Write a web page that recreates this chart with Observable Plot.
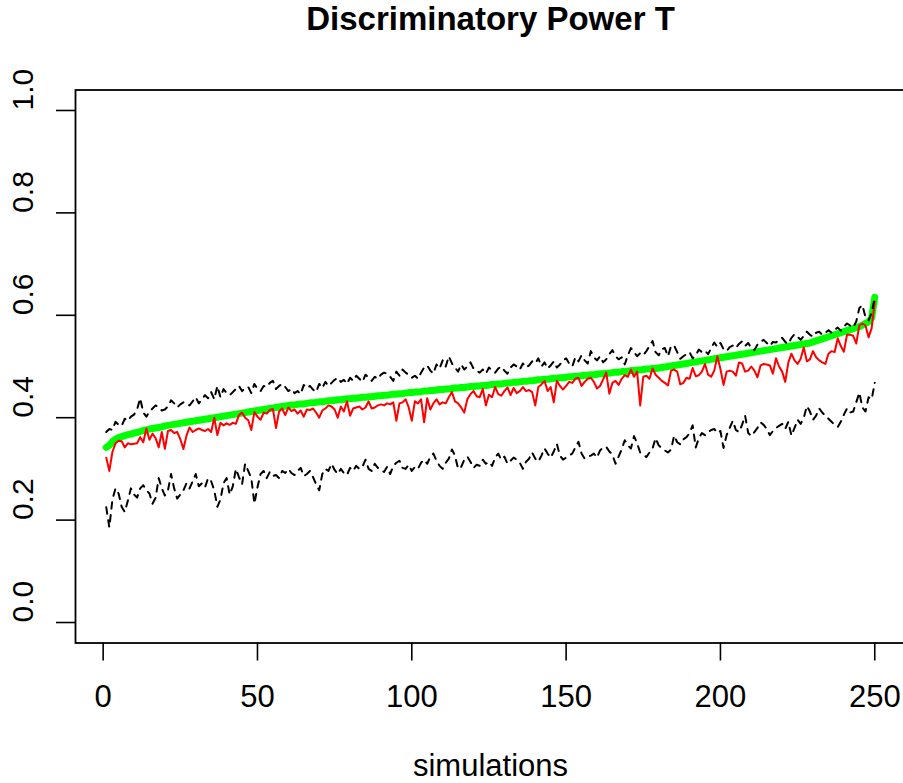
<!DOCTYPE html>
<html>
<head>
<meta charset="utf-8">
<script src="https://cdn.jsdelivr.net/npm/d3@7"></script>
<script src="https://cdn.jsdelivr.net/npm/@observablehq/plot@0.6"></script>
<style>
  html, body { margin: 0; padding: 0; background: white; overflow: hidden; }
  #chart svg { display: block; }
</style>
</head>
<body>
<div id="chart"></div>
<script>
const titleText = "Discriminatory Power T";
const xLabel = "simulations";
const xTicks = [0, 50, 100, 150, 200, 250];
const yTicks = [0.0, 0.2, 0.4, 0.6, 0.8, 1.0];
const sims = d3.range(1, 251);

const green = [
.342,.346,.353,.358,.361,.363,.365,.367,.368,.370,
.371,.373,.375,.376,.378,.379,.380,.381,.382,.384,
.385,.386,.387,.388,.389,.390,.391,.392,.393,.394,
.395,.396,.397,.398,.399,.400,.401,.402,.403,.404,
.405,.406,.407,.408,.409,.410,.411,.412,.413,.414,
.415,.416,.417,.418,.419,.420,.421,.422,.423,.424,
.425,.425,.426,.427,.427,.428,.429,.429,.430,.431,
.431,.432,.433,.433,.434,.435,.435,.436,.437,.437,
.438,.438,.439,.440,.440,.441,.441,.442,.443,.443,
.444,.444,.445,.446,.446,.447,.447,.448,.449,.449,
.450,.450,.451,.452,.452,.453,.453,.454,.455,.455,
.456,.456,.457,.458,.458,.459,.459,.460,.461,.461,
.462,.462,.463,.463,.464,.465,.465,.466,.466,.467,
.468,.468,.469,.469,.470,.471,.471,.472,.472,.473,
.474,.474,.475,.475,.476,.477,.477,.478,.478,.479,
.480,.480,.481,.481,.482,.483,.483,.484,.484,.485,
.486,.486,.487,.487,.488,.489,.489,.490,.490,.491,
.492,.492,.493,.493,.494,.495,.495,.496,.496,.497,
.498,.499,.500,.501,.502,.503,.504,.505,.506,.507,
.508,.509,.510,.511,.512,.513,.514,.515,.516,.517,
.518,.519,.520,.521,.522,.523,.524,.525,.526,.527,
.528,.529,.530,.531,.532,.533,.534,.535,.536,.537,
.538,.539,.540,.541,.542,.543,.544,.545,.546,.548,
.550,.552,.554,.556,.558,.560,.562,.564,.566,.568,
.570,.572,.574,.576,.578,.581,.584,.587,.595,.635
];

const red = [
.322,.296,.333,.350,.355,.354,.342,.350,.348,.349,
.350,.362,.352,.379,.357,.369,.360,.342,.372,.339,
.374,.376,.370,.372,.358,.339,.365,.381,.372,.376,
.379,.376,.374,.378,.372,.400,.366,.390,.385,.389,
.386,.390,.388,.405,.410,.400,.395,.376,.411,.402,
.396,.410,.408,.415,.417,.380,.412,.418,.405,.420,
.413,.416,.408,.414,.402,.416,.415,.418,.410,.400,
.414,.418,.424,.422,.416,.400,.422,.412,.432,.404,
.418,.420,.422,.416,.420,.432,.418,.420,.424,.426,
.424,.428,.426,.430,.394,.428,.430,.436,.420,.394,
.432,.428,.436,.391,.438,.416,.428,.436,.426,.430,
.428,.440,.450,.432,.428,.420,.410,.436,.446,.452,
.442,.440,.456,.424,.445,.440,.460,.446,.443,.452,
.459,.444,.458,.448,.452,.460,.452,.454,.450,.424,
.460,.465,.472,.452,.460,.430,.472,.462,.455,.462,
.470,.468,.476,.478,.462,.470,.476,.478,.470,.457,
.462,.475,.488,.447,.468,.472,.464,.476,.483,.480,
.494,.480,.490,.424,.480,.482,.476,.496,.484,.478,
.472,.468,.463,.492,.494,.490,.465,.468,.478,.476,
.497,.481,.483,.490,.505,.484,.480,.492,.520,.495,
.464,.490,.492,.490,.482,.508,.506,.490,.492,.500,
.492,.479,.502,.505,.504,.502,.486,.516,.500,.490,
.470,.508,.525,.512,.505,.515,.537,.510,.514,.530,
.518,.512,.508,.505,.525,.530,.528,.555,.540,.529,
.562,.562,.560,.545,.580,.584,.580,.557,.575,.627
];

const upper = [
.372,.378,.376,.392,.386,.384,.398,.394,.402,.406,
.416,.438,.410,.402,.412,.418,.424,.420,.414,.416,
.422,.434,.428,.420,.426,.430,.428,.424,.432,.440,
.428,.436,.444,.438,.450,.436,.462,.440,.456,.448,
.444,.450,.456,.462,.452,.458,.460,.448,.466,.456,
.452,.462,.460,.468,.472,.456,.462,.466,.460,.452,
.456,.448,.452,.446,.464,.458,.462,.455,.450,.466,
.458,.470,.462,.468,.474,.478,.470,.474,.466,.478,
.472,.482,.476,.470,.484,.478,.472,.480,.476,.484,
.488,.486,.480,.472,.490,.482,.494,.488,.484,.478,
.482,.476,.488,.498,.502,.492,.486,.504,.496,.512,
.500,.520,.506,.498,.490,.504,.494,.500,.508,.496,
.492,.488,.494,.486,.498,.492,.488,.496,.500,.492,
.486,.498,.504,.500,.494,.506,.498,.502,.510,.506,
.516,.500,.508,.496,.502,.510,.498,.504,.512,.516,
.506,.500,.518,.510,.522,.512,.506,.530,.518,.512,
.520,.508,.514,.524,.532,.520,.514,.518,.504,.522,
.536,.528,.520,.526,.522,.530,.540,.550,.528,.522,
.534,.536,.520,.540,.541,.528,.515,.520,.524,.528,
.516,.522,.533,.528,.531,.524,.536,.547,.538,.546,
.534,.530,.538,.541,.536,.544,.549,.540,.546,.536,
.532,.543,.548,.552,.546,.540,.548,.547,.552,.556,
.548,.544,.556,.563,.558,.552,.560,.568,.562,.558,
.566,.568,.562,.566,.571,.566,.572,.576,.570,.578,
.584,.580,.576,.588,.614,.620,.596,.590,.605,.635
];

const lower = [
.225,.186,.240,.262,.252,.226,.216,.238,.262,.250,
.244,.262,.268,.258,.252,.232,.244,.282,.262,.248,
.258,.290,.262,.242,.250,.258,.272,.262,.276,.290,
.266,.272,.264,.282,.276,.258,.226,.240,.272,.282,
.250,.266,.300,.284,.270,.310,.296,.282,.232,.264,
.290,.296,.282,.294,.286,.288,.282,.296,.292,.300,
.292,.288,.296,.302,.286,.290,.296,.284,.270,.258,
.290,.300,.296,.310,.298,.290,.300,.292,.288,.302,
.296,.306,.300,.304,.318,.300,.296,.310,.302,.298,
.294,.304,.290,.306,.312,.316,.302,.300,.308,.296,
.304,.300,.312,.318,.310,.324,.330,.316,.306,.300,
.312,.320,.338,.326,.300,.304,.318,.324,.314,.302,
.308,.306,.318,.310,.314,.306,.322,.330,.318,.324,
.310,.316,.322,.318,.312,.300,.314,.320,.332,.320,
.314,.326,.340,.330,.322,.334,.349,.326,.318,.322,
.326,.330,.342,.353,.330,.320,.324,.326,.330,.322,
.336,.342,.343,.334,.328,.310,.324,.338,.356,.346,
.340,.364,.350,.332,.328,.323,.332,.340,.360,.346,
.340,.336,.332,.338,.365,.352,.348,.358,.362,.370,
.385,.342,.360,.370,.366,.372,.376,.378,.370,.374,
.341,.366,.380,.394,.376,.372,.386,.404,.370,.364,
.372,.380,.391,.386,.378,.366,.374,.380,.384,.388,
.378,.392,.365,.380,.396,.388,.400,.423,.412,.396,
.404,.418,.410,.404,.398,.392,.386,.382,.392,.406,
.418,.410,.412,.430,.449,.420,.412,.440,.436,.468
];

const toRows = arr => sims.map((s, i) => ({sim: s, value: arr[i]}));

const chart = Plot.plot({
  width: 903,
  height: 783,
  marginLeft: 75,
  marginRight: -2,
  marginTop: 89.5,
  marginBottom: 140.5,
  style: {fontFamily: "'Liberation Sans', Arial, Helvetica, sans-serif", background: "white", color: "black", overflow: "hidden"},
  x: {domain: [-8.96, 259.96]},
  y: {domain: [-0.04, 1.04]},
  marks: [
    Plot.axisX({ticks: xTicks, tickSize: 18, tickPadding: 24, fontSize: 31, label: null, strokeWidth: 1.6}),
    Plot.axisY({ticks: yTicks, tickSize: 19, tickFormat: () => "", label: null, strokeWidth: 1.6}),
    Plot.text(yTicks, {y: d => d, text: d => d.toFixed(1), frameAnchor: "left", rotate: -90, dx: -52, fontSize: 30, fill: "black"}),
    Plot.line(toRows(green), {x: "sim", y: "value", stroke: "#00FF00", strokeWidth: 7, strokeLinecap: "round", strokeLinejoin: "round"}),
    Plot.line(toRows(red), {x: "sim", y: "value", stroke: "#FF0000", strokeWidth: 2, strokeLinejoin: "round"}),
    Plot.line(toRows(upper), {x: "sim", y: "value", stroke: "black", strokeWidth: 2, strokeDasharray: "6.5,6.5"}),
    Plot.line(toRows(lower), {x: "sim", y: "value", stroke: "black", strokeWidth: 2, strokeDasharray: "6.5,6.5"}),
    Plot.frame({stroke: "black", strokeWidth: 1.8}),
    Plot.text([titleText], {frameAnchor: "top", lineAnchor: "middle", dy: -70.5, fontSize: 33, fontWeight: "bold", fill: "black"}),
    Plot.text([xLabel], {frameAnchor: "bottom", lineAnchor: "middle", dy: 123, fontSize: 31, fill: "black"})
  ]
});
document.getElementById("chart").appendChild(chart);
</script>
</body>
</html>
